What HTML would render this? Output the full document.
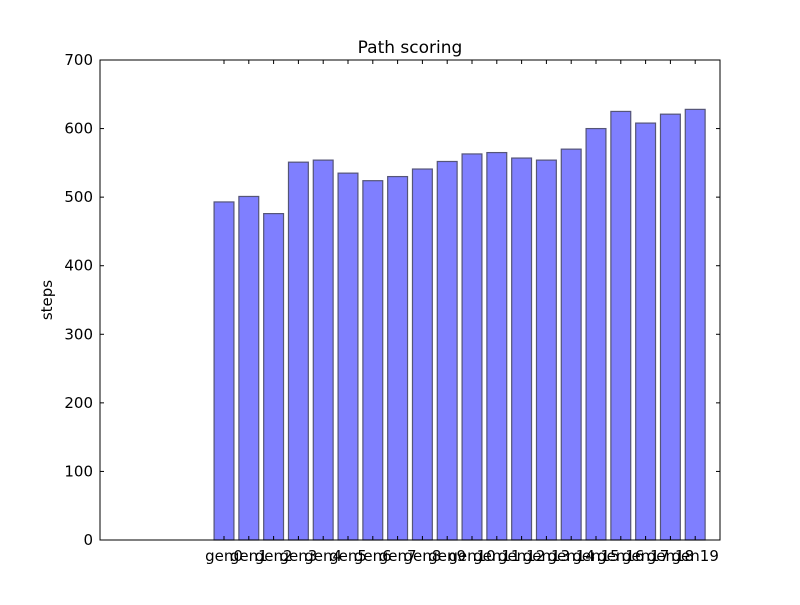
<!DOCTYPE html>
<html><head><meta charset="utf-8"><style>
body{margin:0;background:#fff;}
svg text{font-family:"DejaVu Sans","Liberation Sans",sans-serif;}
</style></head><body>
<svg id="chart" width="800" height="600" xmlns="http://www.w3.org/2000/svg">
<rect width="800" height="600" fill="#fff"/>
<text x="410" y="53" font-size="17" text-anchor="middle">Path scoring</text>
<text x="52" y="300" font-size="15" text-anchor="middle" transform="rotate(-90 52 300)">steps</text>
<g id="bars"></g>
<g id="ticks"></g>
<rect x="100" y="60" width="620" height="480" fill="none" stroke="#000" stroke-width="1"/>
</svg>
<script>
const categories = ["gen0","gen1","gen2","gen3","gen4","gen5","gen6","gen7","gen8","gen9","gen10","gen11","gen12","gen13","gen14","gen15","gen16","gen17","gen18","gen19"];
const steps = [493,501,476,551,554,535,524,530,541,552,563,565,557,554,570,600,625,608,621,628];
const yTicks = [0,100,200,300,400,500,600,700];

const NS="http://www.w3.org/2000/svg";
const x0=100,x1=720,y0=540,y1=60;
const xMin=-4.6,xMax=20.4,yMin=0,yMax=700;
const xs=v=>x0+(v-xMin)/(xMax-xMin)*(x1-x0);
const ys=v=>y0-(v-yMin)/(yMax-yMin)*(y0-y1);
function mk(tag,attrs,parent){const e=document.createElementNS(NS,tag);for(const k in attrs)e.setAttribute(k,attrs[k]);parent.appendChild(e);return e;}
const bars=document.getElementById('bars'),ticks=document.getElementById('ticks');
steps.forEach((v,i)=>{
  const r=mk('rect',{x:xs(i),y:ys(v),width:xs(i+0.8)-xs(i),height:ys(0)-ys(v),fill:'#7f7fff',stroke:'#555577','stroke-width':1.2},bars);
  
  
  const c=xs(i+0.4);
  mk('line',{x1:c,x2:c,y1:y0,y2:y0-4,stroke:'#000'},ticks);
  mk('line',{x1:c,x2:c,y1:y1,y2:y1+4,stroke:'#000'},ticks);
  const t=mk('text',{x:c,y:y0+21,'font-size':15,'text-anchor':'middle'},ticks);
  t.textContent=categories[i];
  
  
});
yTicks.forEach(v=>{
  const y=ys(v);
  mk('line',{x1:x0,x2:x0+4,y1:y,y2:y,stroke:'#000'},ticks);
  mk('line',{x1:x1,x2:x1-4,y1:y,y2:y,stroke:'#000'},ticks);
  const t=mk('text',{x:x0-7,y:y+5,'font-size':15,'text-anchor':'end'},ticks);
  t.textContent=v;
  
  
});
</script>
</body></html>
